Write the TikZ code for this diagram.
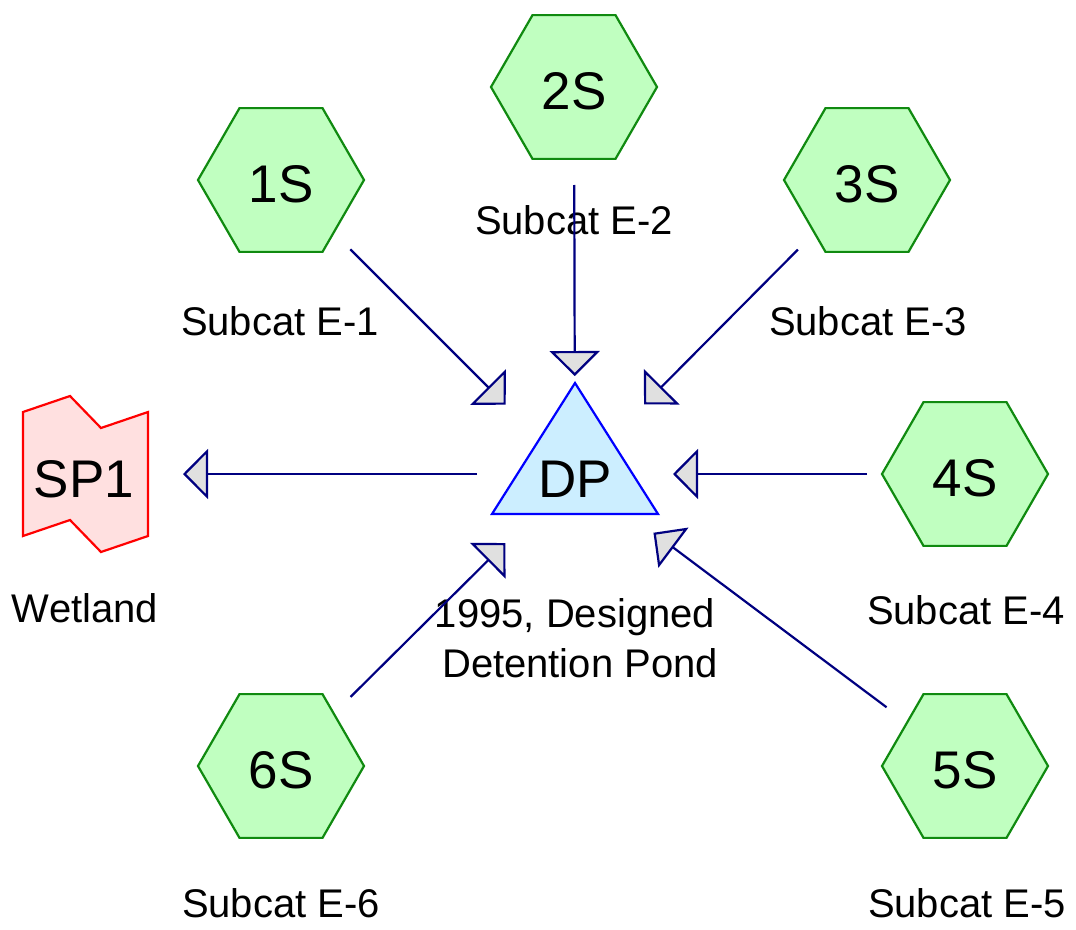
\documentclass[tikz,border=0pt]{standalone}
\usepackage{fontspec}
\setmainfont{Liberation Sans}
\usetikzlibrary{shapes.geometric,arrows.meta}
\definecolor{hexfill}{HTML}{C0FFC0}
\definecolor{hexdraw}{HTML}{108A10}
\definecolor{pondfill}{HTML}{CCEEFF}
\definecolor{ponddraw}{HTML}{0000FF}
\definecolor{linkfill}{HTML}{FFE0E0}
\definecolor{linkdraw}{HTML}{FF0000}
\definecolor{flowline}{HTML}{000080}
\definecolor{tipfill}{HTML}{E0E0E0}
\tikzset{
  subcat/.style={regular polygon, regular polygon sides=6, minimum size=166pt,
    inner sep=0pt, fill=hexfill, draw=hexdraw, line width=2.2pt,
    font=\fontsize{53}{60}\selectfont, text height=44pt, text depth=0pt},
  lbl/.style={anchor=base, inner sep=0pt, font=\fontsize{40}{50}\selectfont},
  bigtxt/.style={anchor=base, inner sep=0pt, font=\fontsize{53}{60}\selectfont},
  flow/.style={draw=flowline, line width=2.2pt,
    -{Triangle[length=25pt,width=50pt,fill=tipfill]},
    shorten <=98pt, shorten >=98pt}
}
\begin{document}
\begin{tikzpicture}[x=1pt,y=-1pt]
\useasboundingbox (0,0) rectangle (1076,929);
% pond
\filldraw[fill=pondfill, draw=ponddraw, line width=2.2pt, line join=miter]
  (575,383) -- (658,514) -- (492,514) -- cycle;
\coordinate (DP) at (575,474);
\node[bigtxt] (DPtxt) at (575,497) {DP};
% link
\filldraw[fill=linkfill, draw=linkdraw, line width=2.2pt]
  (23,412) -- (70,396) -- (101,428) -- (148,412) -- (148,536) -- (101,552) -- (70,520) -- (23,536) -- cycle;
\coordinate (SP1) at (85,474);
\node[bigtxt] (SP1txt) at (84,497) {SP1};
% subcatchments
\node[subcat] (1S) at (281,180) {1S};
\node[subcat] (2S) at (574,87) {2S};
\node[subcat] (3S) at (867,180) {3S};
\node[subcat] (4S) at (965,474) {4S};
\node[subcat] (5S) at (965,766) {5S};
\node[subcat] (6S) at (281,766) {6S};
% labels
\node[lbl] (L1) at (280,335) {Subcat E-1};
\node[lbl] (L2) at (574,234) {Subcat E-2};
\node[lbl] (L3) at (868,335) {Subcat E-3};
\node[lbl] (L4) at (966,624) {Subcat E-4};
\node[lbl] (L5) at (967,917) {Subcat E-5};
\node[lbl] (L6) at (281,917) {Subcat E-6};
\node[lbl] (LW) at (85,622) {Wetland};
\node[lbl] (LDP1) at (575,627) {1995, Designed};
\node[lbl] (LDP2) at (580,677) {Detention Pond};
% flows
\draw[flow] (1S.center) -- (DP);
\draw[flow] (2S.center) -- (DP);
\draw[flow] (3S.center) -- (DP);
\draw[flow] (4S.center) -- (DP);
\draw[flow] (5S.center) -- (DP);
\draw[flow] (6S.center) -- (DP);
\draw[flow] (DP) -- (SP1);
\end{tikzpicture}
\end{document}
